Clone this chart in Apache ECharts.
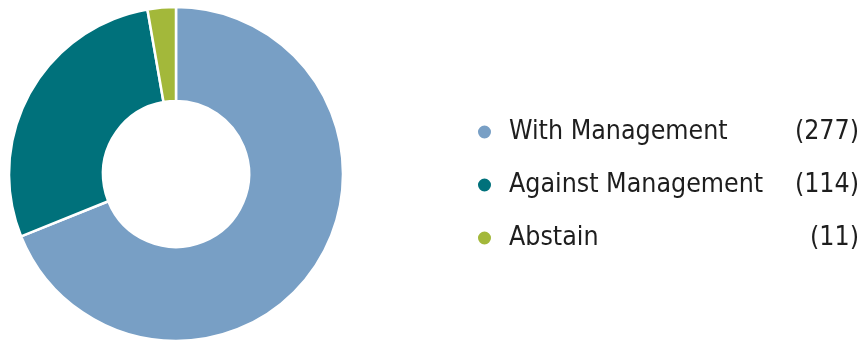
<!DOCTYPE html>
<html>
<head>
<meta charset="utf-8">
<script src="https://cdn.jsdelivr.net/npm/echarts@6/dist/echarts.min.js"></script>
<style>
  html, body { margin: 0; padding: 0; background: #fff; }
  #main { width: 862px; height: 343px; }
</style>
</head>
<body>
<div id="main"></div>
<script>
var names = ['With Management', 'Against Management', 'Abstain'];
var values = [277, 114, 11];
var colors = ['#789fc5', '#00717b', '#a3b83a'];

var chart = echarts.init(document.getElementById('main'));
var fontName = '"DejaVu Sans Condensed", "Liberation Sans Narrow", sans-serif';

var pieData = [];
for (var i = 0; i < names.length; i++) {
  pieData.push({ name: names[i], value: values[i], itemStyle: { color: colors[i] } });
}

var option = {
  animation: false,
  legend: {
    orient: 'vertical',
    left: 476,
    top: 115,
    padding: 0,
    icon: 'circle',
    itemWidth: 15,
    itemHeight: 15,
    itemGap: 19,
    selectedMode: false,
    data: names,
    formatter: function (name) {
      var idx = names.indexOf(name);
      return '{n|' + name + '}{v|(' + values[idx] + ')}';
    },
    textStyle: {
      fontFamily: fontName,
      fontSize: 26.5,
      lineHeight: 34,
      color: '#1e1e1e',
      rich: {
        n: { fontFamily: fontName, fontSize: 26.5, color: '#1e1e1e', width: 280, padding: [0, 0, 0, 12], lineHeight: 34 },
        v: { fontFamily: fontName, fontSize: 26.5, color: '#1e1e1e', width: 70, align: 'right', lineHeight: 34 }
      }
    }
  },
  series: [{
    type: 'pie',
    center: [176, 174],
    radius: [73, 167],
    startAngle: 90,
    clockwise: true,
    label: { show: false },
    labelLine: { show: false },
    emphasis: { disabled: true },
    itemStyle: { borderColor: '#fff', borderWidth: 2.5 },
    data: pieData
  }]
};
chart.setOption(option);
</script>
</body>
</html>
